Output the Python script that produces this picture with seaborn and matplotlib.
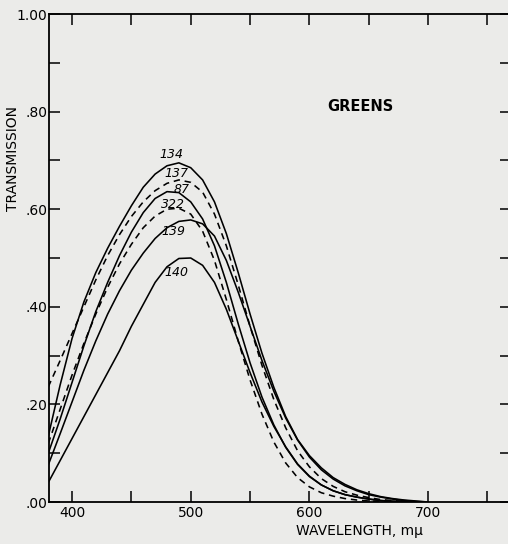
import numpy as np
import pandas as pd
import seaborn as sns
import matplotlib.pyplot as plt
from matplotlib.ticker import MultipleLocator

# wavelength grid (m-mu) and transmission
wavelength = [380, 390, 400, 410, 420, 430, 440, 450, 460, 470, 480, 490, 500,
              510, 520, 530, 540, 550, 560, 570, 580, 590, 600, 610, 620, 630,
              640, 650, 660, 670, 680, 690, 700]

t134 = [0.135, 0.24, 0.335, 0.41, 0.47, 0.52, 0.565, 0.607, 0.645, 0.672, 0.689, 0.695, 0.685,
        0.66, 0.615, 0.55, 0.47, 0.385, 0.305, 0.235, 0.175, 0.128, 0.095, 0.07, 0.05, 0.036,
        0.025, 0.017, 0.011, 0.007, 0.004, 0.002, 0.0]
t137 = [0.236, 0.29, 0.345, 0.40, 0.455, 0.505, 0.548, 0.585, 0.615, 0.638, 0.653, 0.66, 0.655,
        0.635, 0.59, 0.525, 0.445, 0.36, 0.28, 0.21, 0.152, 0.105, 0.072, 0.048, 0.032, 0.021,
        0.014, 0.009, 0.005, 0.003, 0.001, 0.0, 0.0]
t87 = [0.10, 0.17, 0.245, 0.32, 0.39, 0.45, 0.505, 0.553, 0.593, 0.622, 0.636, 0.634, 0.615,
       0.58, 0.525, 0.45, 0.365, 0.285, 0.215, 0.158, 0.112, 0.077, 0.052, 0.035, 0.023, 0.015,
       0.01, 0.006, 0.003, 0.002, 0.001, 0.0, 0.0]
t322 = [0.12, 0.19, 0.26, 0.325, 0.385, 0.44, 0.488, 0.528, 0.562, 0.586, 0.60, 0.602, 0.59,
        0.555, 0.495, 0.415, 0.33, 0.25, 0.18, 0.123, 0.08, 0.05, 0.031, 0.019, 0.012, 0.007,
        0.004, 0.002, 0.001, 0.0, 0.0, 0.0, 0.0]
t139 = [0.076, 0.14, 0.205, 0.27, 0.33, 0.385, 0.433, 0.475, 0.51, 0.54, 0.562, 0.575, 0.578,
        0.57, 0.545, 0.495, 0.43, 0.36, 0.29, 0.227, 0.172, 0.127, 0.092, 0.066, 0.047, 0.033,
        0.023, 0.015, 0.01, 0.006, 0.003, 0.001, 0.0]
t140 = [0.04, 0.085, 0.13, 0.175, 0.22, 0.265, 0.31, 0.36, 0.405, 0.45, 0.482, 0.499, 0.50,
        0.485, 0.45, 0.395, 0.33, 0.265, 0.205, 0.155, 0.113, 0.078, 0.053, 0.035, 0.023, 0.015,
        0.01, 0.006, 0.003, 0.001, 0.0, 0.0, 0.0]

filters = ["134", "137", "87", "322", "139", "140"]
dashed = ["137", "322"]
# where the hand-written filter numbers sit (wavelength, transmission)
label_x = [484, 488, 492, 485, 485, 488]
label_y = [0.713, 0.674, 0.640, 0.609, 0.554, 0.470]

xtick_vals = [400, 500, 600, 700]
ytick_vals = [0.0, 0.2, 0.4, 0.6, 0.8, 1.0]
ytick_text = [".00", ".20", ".40", ".60", ".80", "1.00"]

series = [t134, t137, t87, t322, t139, t140]
df = pd.concat(
    [pd.DataFrame({"wavelength": wavelength, "transmission": s, "filter": f})
     for f, s in zip(filters, series)],
    ignore_index=True,
)

sns.set_style("ticks")
plt.rcParams["font.family"] = ["DejaVu Sans"]
plt.rcParams["text.color"] = "black"
plt.rcParams["axes.labelcolor"] = "black"
plt.rcParams["xtick.color"] = "black"
plt.rcParams["ytick.color"] = "black"
bg = "#ebebe9"

fig = plt.figure(figsize=(5.08, 5.44), dpi=100, facecolor=bg)
ax = fig.add_axes([49 / 508, 1 - 502 / 544, 462 / 508, 488 / 544])
ax.set_facecolor(bg)

for f in filters:
    sub = df[df["filter"] == f]
    sns.lineplot(data=sub, x="wavelength", y="transmission", ax=ax,
                 color="black", linewidth=1.15,
                 linestyle=(0, (4, 3)) if f in dashed else "-")

for f, lx, ly in zip(filters, label_x, label_y):
    ax.text(lx, ly, f, fontsize=9, style="italic", ha="center", va="center")

ax.text(643, 0.811, "GREENS", fontsize=10.5, fontweight="bold",
        ha="center", va="center")

ax.set_xlim(380.6, 769.8)
ax.set_ylim(0, 1.0)
ax.set_xticks(xtick_vals)
ax.xaxis.set_minor_locator(MultipleLocator(50))
ax.set_yticks(ytick_vals)
ax.set_yticklabels(ytick_text)
ax.yaxis.set_minor_locator(MultipleLocator(0.1))

ax.tick_params(which="both", direction="in", length=8, width=1.1,
               top=True, right=True, labelsize=10, pad=3, colors="black")
ax.tick_params(axis="y", pad=1)
for sp in ax.spines.values():
    sp.set_linewidth(1.3)
    sp.set_color("black")

ax.set_xlabel("WAVELENGTH, m\u03bc", fontsize=10)
ax.xaxis.set_label_coords(0.673, -0.045)
ax.set_ylabel("TRANSMISSION", fontsize=10)
ax.yaxis.set_label_coords(-0.062, 0.703)

fig.savefig("out.png", dpi=100, facecolor=bg)
